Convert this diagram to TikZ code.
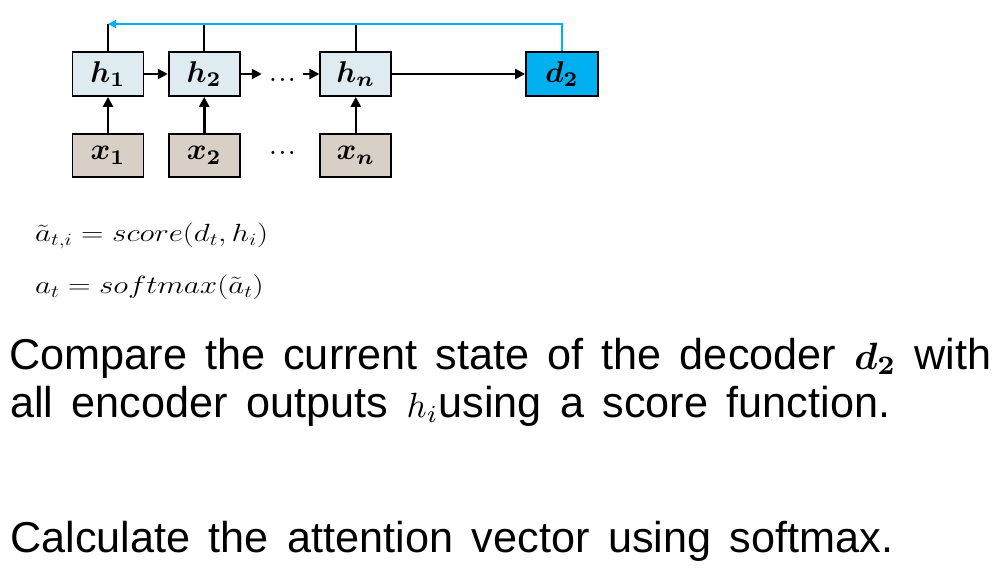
\documentclass[tikz,border=0pt]{standalone}
\usepackage{amsmath}
\usepackage{graphicx}
\usepackage{fontspec}
\newfontfamily\arialfont{Liberation Sans}
\usetikzlibrary{arrows.meta}
\definecolor{hstatefill}{RGB}{222,235,241}
\definecolor{xinputfill}{RGB}{216,207,199}
\definecolor{dstatefill}{RGB}{0,176,240}
\definecolor{feedbackline}{RGB}{0,176,240}
\tikzset{
  mybox/.style={draw=black,line width=1.8pt,inner sep=0pt},
  hstate/.style={mybox,fill=hstatefill,minimum width=71pt,minimum height=44pt},
  xinput/.style={mybox,fill=xinputfill,minimum width=71pt,minimum height=43pt},
  dstate/.style={mybox,fill=dstatefill,minimum width=72pt,minimum height=44pt},
  dotsn/.style={inner sep=0pt,minimum width=41pt,text height=16pt,text depth=0pt},
  conn/.style={line width=2.6pt,-{Triangle[length=10pt,width=10pt]}},
  uplink/.style={line width=2pt},
  feedback/.style={line width=1.6pt,draw=feedbackline,-{Triangle[length=8pt,width=8pt]}},
  eqn/.style={anchor=base west,inner sep=0pt,font=\fontsize{25}{30}\selectfont},
  bodytext/.style={anchor=base west,inner sep=0pt,font=\arialfont\fontsize{43.2}{50}\selectfont}
}
\newcommand{\bsym}[2]{\scalebox{3}{$\boldsymbol{#1}_{\boldsymbol{#2}}$}}
\newcommand{\mydots}{\scalebox{2}{\textbf{.\kern1.5pt.\kern1.5pt.}}}
\newcommand{\inmath}[2]{{\fontsize{10}{12}\selectfont\scalebox{#1}{$#2$}}}
\begin{document}
\begin{tikzpicture}[x=1pt,y=1pt,yscale=-1]
\path[use as bounding box] (0,0) rectangle (1003,569);
\node[hstate] (h1) at (108,74) {\bsym{h}{1}};
\node[hstate] (h2) at (204.2,74) {\bsym{h}{2}};
\node[hstate] (hn) at (355.8,74) {\bsym{h}{n}};
\node[dstate] (d2) at (562,74) {\bsym{d}{2}};
\node[dotsn] (dotsh) at (282.5,74) {\mydots};
\node[xinput] (x1) at (108,155.5) {\bsym{x}{1}};
\node[xinput] (x2) at (204.2,155.5) {\bsym{x}{2}};
\node[xinput] (xn) at (355.8,155.5) {\bsym{x}{n}};
\node[dotsn,anchor=base] (dotsx) at (282.5,154.5) {\mydots};
\draw[conn] (h1) -- (h2);
\draw[conn] (h2) -- (dotsh);
\draw[conn] (dotsh) -- (hn);
\draw[conn] (hn) -- (d2);
\draw[conn] (x1) -- (h1);
\draw[conn] (x2) -- (h2);
\draw[conn] (xn) -- (hn);
\coordinate (top) at (0,24);
\draw[uplink] (h1.north) -- (h1.north |- top);
\draw[uplink] (h2.north) -- (h2.north |- top);
\draw[uplink] (hn.north) -- (hn.north |- top);
\draw[feedback] (d2.north) |- (h1.north |- top);
\node[eqn] (eq1) at (35,241.7) {\scalebox{1.25}[1]{$\tilde{a}_{t,i} = score(d_t, h_i)$}};
\node[eqn] (eq2) at (35,293.3) {\scalebox{1.25}[1]{$a_t = softmax(\tilde{a}_t)$}};
\node[bodytext] (l1) at (9.3,369) {\makebox[982pt][s]{Compare the current state of the decoder \inmath{3.8}{\boldsymbol{d}_{\boldsymbol{2}}} with}};
\node[bodytext] (l2) at (10,417) {\makebox[880pt][s]{all encoder outputs \inmath{3.5}{h_i}using a score function.}};
\node[bodytext] (l3) at (10,552) {\makebox[883pt][s]{Calculate the attention vector using softmax.}};
\end{tikzpicture}
\end{document}
